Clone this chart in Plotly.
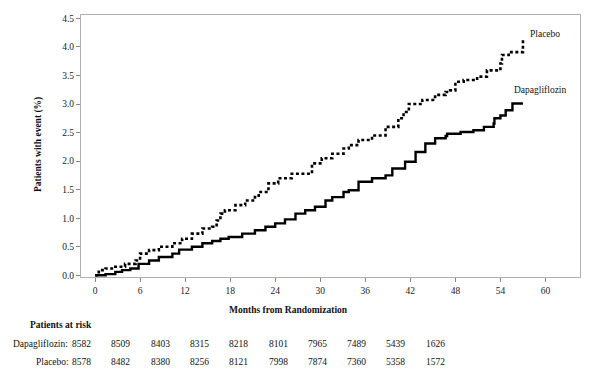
import plotly.graph_objects as go

# Kaplan-Meier style cumulative incidence
placebo_months = [0, 0.5, 1.4, 2.7, 4.0, 5.4, 6.0, 7.2, 8.5, 10.3, 11.6, 12.9, 14.3, 15.6, 16.2, 16.7,
                  17.3, 18.7, 20.0, 21.3, 21.8, 23.1, 24.4, 26.2, 28.9, 30.2, 31.6, 33.1, 33.8, 35.1,
                  36.9, 38.7, 40.4, 41.1, 41.8, 43.6, 45.3, 46.7, 47.3, 48.0, 49.1, 50.9, 52.2, 54.0,
                  54.2, 55.1, 57.0]
placebo_pct = [0, 0.09, 0.12, 0.15, 0.20, 0.26, 0.38, 0.44, 0.50, 0.56, 0.64, 0.73, 0.82, 0.85, 0.96, 1.08,
               1.14, 1.23, 1.31, 1.37, 1.46, 1.61, 1.70, 1.78, 1.96, 2.05, 2.13, 2.22, 2.28, 2.37,
               2.45, 2.60, 2.75, 2.86, 3.00, 3.07, 3.16, 3.21, 3.24, 3.39, 3.42, 3.48, 3.59, 3.71,
               3.86, 3.91, 4.12]

dapa_months = [0, 1.4, 2.7, 3.6, 4.7, 5.8, 7.2, 8.5, 10.3, 11.2, 12.9, 14.3, 15.6, 16.7, 17.8, 19.6,
               21.3, 22.7, 24.0, 25.3, 26.7, 28.0, 29.3, 30.7, 31.6, 33.1, 33.8, 35.1, 36.9, 38.7,
               39.6, 41.3, 42.7, 44.0, 45.3, 46.7, 46.9, 48.7, 50.4, 51.8, 53.1, 53.2, 54.0, 54.7,
               55.6, 57.0]
dapa_pct = [0, 0.02, 0.06, 0.09, 0.12, 0.20, 0.26, 0.32, 0.38, 0.45, 0.50, 0.56, 0.60, 0.64, 0.67, 0.73,
            0.79, 0.85, 0.91, 0.98, 1.08, 1.14, 1.20, 1.31, 1.37, 1.46, 1.49, 1.64, 1.70, 1.75,
            1.87, 1.99, 2.16, 2.31, 2.40, 2.44, 2.48, 2.51, 2.54, 2.60, 2.66, 2.75, 2.80, 2.89,
            3.01, 3.01]

x_ticks = [0, 6, 12, 18, 24, 30, 36, 42, 48, 54, 60]
y_ticks = [0.0, 0.5, 1.0, 1.5, 2.0, 2.5, 3.0, 3.5, 4.0, 4.5]
y_tick_labels = ["0.0", "0.5", "1.0", "1.5", "2.0", "2.5", "3.0", "3.5", "4.0", "4.5"]

risk_dapa = [8582, 8509, 8403, 8315, 8218, 8101, 7965, 7489, 5439, 1626]
risk_placebo = [8578, 8482, 8380, 8256, 8121, 7998, 7874, 7360, 5358, 1572]

OFF = 8  # page body margin
W, H = 601 - OFF, 385 - OFF
L, R, T, B = 81 - OFF, 21, 15 - OFF, 108
PW, PH = W - L - R, H - T - B
FONT = "Liberation Serif, Times New Roman, serif"
FS = 9.5


def px(xp):
    # screen pixel x -> paper
    return (xp - OFF - L) / PW


def py(yp):
    # screen pixel y -> paper
    return (H - B - (yp - OFF)) / PH


fig = go.Figure()
fig.add_trace(go.Scatter(x=placebo_months, y=placebo_pct, mode="lines", line_shape="hv",
                         line=dict(color="black", width=2.6, dash="3px,2.5px"), name="Placebo"))
fig.add_trace(go.Scatter(x=dapa_months, y=dapa_pct, mode="lines", line_shape="hv",
                         line=dict(color="black", width=2.4), name="Dapagliflozin"))

ann = []
ann.append(dict(text="Placebo", x=px(528), y=py(34), xanchor="left", yanchor="middle"))
ann.append(dict(text="Dapagliflozin", x=px(512), y=py(90), xanchor="left", yanchor="middle"))
ann.append(dict(text="<b>Months from Randomization</b>", x=px(288), y=py(310), xanchor="center", yanchor="middle"))
ann.append(dict(text="<b>Patients with event (%)</b>", x=px(38), y=py(145), xanchor="center", yanchor="middle",
                textangle=-90))
ann.append(dict(text="<b>Patients at risk</b>", x=px(28), y=py(325), xanchor="left", yanchor="middle"))
ann.append(dict(text="Dapagliflozin:", x=px(70), y=py(344), xanchor="right", yanchor="middle"))
ann.append(dict(text="Placebo:", x=px(71), y=py(362), xanchor="right", yanchor="middle"))
for i, (d, p) in enumerate(zip(risk_dapa, risk_placebo)):
    cx = 81.5 + 39.3 * i
    ann.append(dict(text=str(d), x=px(cx), y=py(344), xanchor="center", yanchor="middle"))
    ann.append(dict(text=str(p), x=px(cx), y=py(362), xanchor="center", yanchor="middle"))
for a in ann:
    a.update(xref="paper", yref="paper", showarrow=False, font=dict(family=FONT, size=FS, color="#111"))

fig.update_layout(
    width=W, height=H, margin=dict(l=L, r=R, t=T, b=B),
    paper_bgcolor="white", plot_bgcolor="white", showlegend=False,
    annotations=ann,
    font=dict(family=FONT, size=FS, color="#222"),
    xaxis=dict(range=[-1.87, 64.6], tickvals=x_ticks, ticktext=[str(v) for v in x_ticks],
               showgrid=False, zeroline=False, showline=True, linecolor="#b0b0b0", linewidth=1.2,
               mirror=True, ticks="outside", ticklen=4, tickcolor="#888", tickfont=dict(family=FONT, size=FS)),
    yaxis=dict(range=[-0.03, 4.56], tickvals=y_ticks, ticktext=y_tick_labels,
               showgrid=False, zeroline=False, showline=True, linecolor="#b0b0b0", linewidth=1.2,
               mirror=True, ticks="outside", ticklen=4, tickcolor="#888", tickfont=dict(family=FONT, size=FS)),
)

fig.write_html("out.html")
